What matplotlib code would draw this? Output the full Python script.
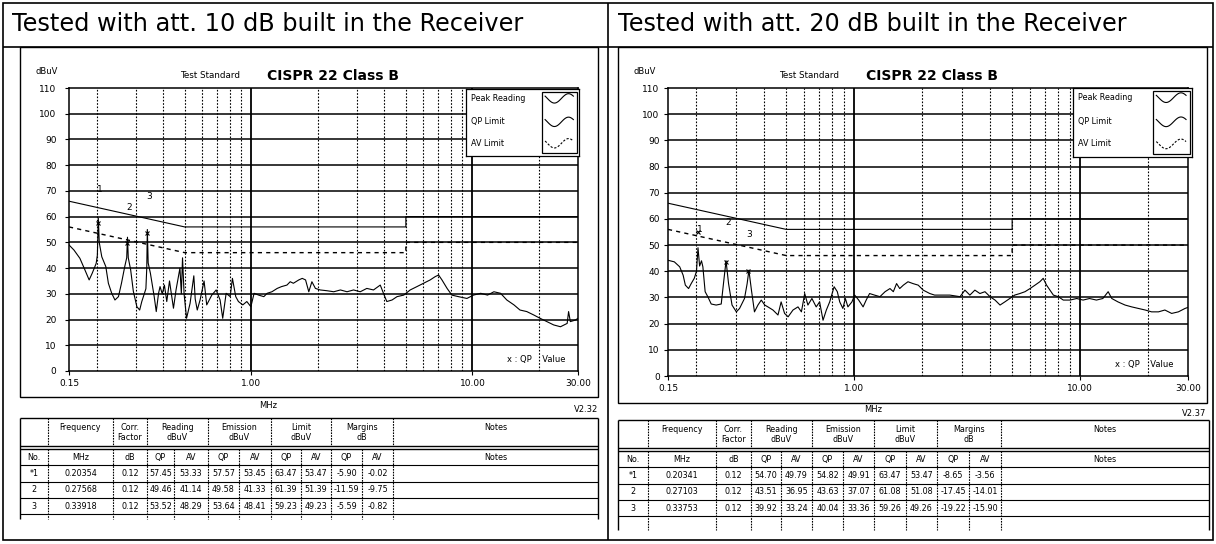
import numpy as np
import matplotlib
matplotlib.use("Agg")
import matplotlib.pyplot as plt
from matplotlib.patches import Rectangle
from matplotlib.ticker import NullLocator

# ---------------- data ----------------
titles = ["Tested with att. 10 dB built in the Receiver",
          "Tested with att. 20 dB built in the Receiver"]

# Peak reading trace, 10 dB attenuator (MHz, dBuV)
freq_10dB = [0.150, 0.158, 0.168, 0.177, 0.185, 0.191, 0.199, 0.2015, 0.2035, 0.2055,
             0.211, 0.220, 0.226, 0.234, 0.242, 0.251, 0.259, 0.268, 0.2735, 0.2757,
             0.278, 0.285, 0.293, 0.304, 0.313, 0.320, 0.327, 0.334, 0.337, 0.339,
             0.342, 0.350, 0.364, 0.372, 0.381, 0.387, 0.396, 0.405, 0.415, 0.427,
             0.445, 0.457, 0.476, 0.483, 0.489, 0.497, 0.510, 0.529, 0.550, 0.558,
             0.570, 0.587, 0.612, 0.629, 0.663, 0.694, 0.723, 0.743, 0.770, 0.803,
             0.822, 0.851, 0.875, 0.916, 0.955, 0.996, 1.03, 1.08, 1.14, 1.18,
             1.24, 1.31, 1.37, 1.45, 1.50, 1.55, 1.64, 1.70, 1.76, 1.82,
             1.88, 1.95, 2.05, 2.20, 2.36, 2.53, 2.71, 2.90, 3.11, 3.33,
             3.57, 3.83, 3.96, 4.10, 4.33, 4.56, 4.89, 5.23, 5.61, 6.01,
             6.44, 6.79, 7.03, 7.28, 7.68, 8.07, 8.65, 9.44, 10.1, 10.9,
             11.7, 12.5, 13.4, 14.3, 15.4, 16.4, 17.6, 18.9, 20.2, 21.7,
             23.3, 25.0, 26.8, 27.2, 27.7, 29.2, 30.0]
level_10dB = [49.0, 47.0, 43.8, 39.3, 35.4, 38.0, 41.8, 45.0, 59.5, 50.0,
              44.4, 40.6, 34.1, 30.2, 27.6, 28.9, 34.1, 40.6, 44.0, 52.0,
              44.0, 39.3, 31.0, 25.0, 23.7, 27.0, 29.5, 32.0, 40.0, 55.0,
              42.0, 38.0, 29.0, 23.1, 30.2, 32.8, 30.0, 33.4, 27.0, 35.0,
              24.4, 31.5, 40.0, 30.0, 44.0, 30.0, 20.5, 26.3, 37.0, 28.0,
              23.7, 27.6, 35.0, 25.7, 29.5, 31.5, 27.6, 20.5, 30.2, 28.9,
              36.0, 28.9, 27.0, 25.7, 27.0, 25.0, 30.2, 29.5, 28.9, 30.2,
              30.8, 32.1, 32.8, 33.4, 34.7, 34.1, 35.4, 36.0, 35.4, 30.8,
              34.7, 32.1, 31.5, 31.2, 30.8, 31.5, 30.8, 31.5, 30.8, 32.1,
              31.5, 33.4, 30.2, 27.0, 27.6, 28.9, 29.5, 31.5, 32.8, 34.1,
              35.4, 36.7, 37.3, 35.4, 32.1, 29.5, 28.9, 28.2, 29.5, 30.2,
              29.5, 30.8, 30.2, 27.6, 25.7, 23.7, 23.1, 21.8, 20.5, 19.2,
              17.9, 17.2, 18.5, 23.1, 19.2, 19.8, 20.5]

# Peak reading trace, 20 dB attenuator (MHz, dBuV)
freq_20dB = [0.150, 0.160, 0.169, 0.175, 0.179, 0.185, 0.190, 0.196, 0.2005, 0.2036,
             0.207, 0.211, 0.214, 0.219, 0.225, 0.233, 0.245, 0.258, 0.265, 0.271,
             0.278, 0.288, 0.301, 0.311, 0.327, 0.336, 0.342, 0.351, 0.362, 0.375,
             0.388, 0.402, 0.415, 0.437, 0.460, 0.475, 0.492, 0.510, 0.536, 0.564,
             0.584, 0.604, 0.624, 0.650, 0.679, 0.703, 0.728, 0.753, 0.779, 0.815,
             0.842, 0.863, 0.891, 0.914, 0.938, 0.977, 1.005, 1.047, 1.095, 1.13,
             1.17, 1.23, 1.30, 1.37, 1.44, 1.49, 1.54, 1.59, 1.65, 1.73,
             1.82, 1.92, 2.02, 2.16, 2.27, 2.40, 2.65, 2.94, 3.09, 3.25,
             3.42, 3.60, 3.79, 3.99, 4.20, 4.42, 4.64, 4.88, 5.13, 5.41,
             5.70, 6.00, 6.31, 6.63, 6.86, 7.10, 7.35, 7.61, 8.00, 8.42,
             9.02, 9.65, 10.3, 11.0, 11.8, 12.6, 13.3, 13.8, 14.7, 15.8,
             16.9, 18.1, 19.4, 20.7, 22.2, 23.7, 25.4, 27.2, 29.1, 30.0]
level_20dB = [44.2, 43.6, 41.7, 38.5, 34.7, 33.4, 35.3, 37.3, 40.0, 49.0,
              42.0, 44.0, 41.7, 32.2, 30.3, 27.5, 27.1, 27.5, 36.6, 44.0,
              35.3, 27.1, 24.5, 25.8, 29.6, 35.3, 40.4, 32.8, 24.5, 27.1,
              29.0, 27.1, 26.4, 25.2, 23.3, 28.3, 23.9, 22.6, 25.2, 26.4,
              24.5, 31.5, 27.1, 29.6, 26.4, 28.3, 21.3, 25.2, 28.3, 34.1,
              32.2, 28.3, 25.8, 29.6, 26.4, 28.3, 30.9, 29.0, 26.4, 29.0,
              31.5, 30.9, 30.3, 32.2, 33.4, 32.2, 35.3, 33.4, 34.7, 36.0,
              35.3, 34.7, 32.8, 31.5, 30.9, 30.9, 30.9, 30.3, 32.8, 30.9,
              32.8, 31.5, 32.2, 30.3, 29.0, 27.1, 28.3, 29.6, 30.9, 31.5,
              32.2, 33.4, 34.7, 36.0, 37.3, 34.7, 32.8, 30.9, 30.3, 29.0,
              29.0, 29.6, 29.0, 29.6, 29.0, 29.6, 32.2, 29.6, 28.3, 27.1,
              26.4, 25.8, 25.2, 24.5, 24.5, 25.2, 23.9, 24.5, 25.8, 26.2]

# CISPR 22 Class B limits
limit_freq = [0.15, 0.5, 5.0, 5.0, 30.0]
qp_limit = [66, 56, 56, 60, 60]
av_limit = [56, 46, 46, 50, 50]

# Marked QP points
marker_freq_10dB = [0.20354, 0.27568, 0.33918]
marker_qp_10dB = [57.57, 49.58, 53.64]
marker_freq_20dB = [0.20341, 0.27103, 0.33753]
marker_qp_20dB = [54.82, 43.63, 40.04]

# Tables
table_10dB = [
    ["*1", "0.20354", "0.12", "57.45", "53.33", "57.57", "53.45", "63.47", "53.47", "-5.90", "-0.02"],
    ["2", "0.27568", "0.12", "49.46", "41.14", "49.58", "41.33", "61.39", "51.39", "-11.59", "-9.75"],
    ["3", "0.33918", "0.12", "53.52", "48.29", "53.64", "48.41", "59.23", "49.23", "-5.59", "-0.82"],
]
table_20dB = [
    ["*1", "0.20341", "0.12", "54.70", "49.79", "54.82", "49.91", "63.47", "53.47", "-8.65", "-3.56"],
    ["2", "0.27103", "0.12", "43.51", "36.95", "43.63", "37.07", "61.08", "51.08", "-17.45", "-14.01"],
    ["3", "0.33753", "0.12", "39.92", "33.24", "40.04", "33.36", "59.26", "49.26", "-19.22", "-15.90"],
]
versions = ["V2.32", "V2.37"]

# ---------------- layout ----------------
W, H = 1216, 544
fig = plt.figure(figsize=(W / 100, H / 100), dpi=100)
fig.patch.set_facecolor("white")
TFONT = "DejaVu Sans"
FONT = "DejaVu Sans"


def rect(x0, y0, x1, y1):
    return [x0 / W, 1 - y1 / H, (x1 - x0) / W, (y1 - y0) / H]


bg = fig.add_axes([0, 0, 1, 1])
bg.set_xlim(0, W)
bg.set_ylim(H, 0)
bg.axis("off")


def hline(y, x0, x1, lw=1.0, ls="-"):
    bg.plot([x0, x1], [y, y], color="k", lw=lw, ls=ls, solid_capstyle="butt")


def vline(x, y0, y1, lw=1.0, ls="-"):
    bg.plot([x, x], [y0, y1], color="k", lw=lw, ls=ls, solid_capstyle="butt")


# outer frame
bg.add_patch(Rectangle((3, 3), 1210, 537, fill=False, lw=1.2, ec="k"))
hline(47, 3, 1213, lw=1.2)
vline(608, 3, 540, lw=1.2)

renderer = fig.canvas.get_renderer()
for tx, title, target in [(12, titles[0], 513), (618, titles[1], 510)]:
    t = bg.text(tx, 24, title, fontsize=16, family=TFONT, va="center", ha="left")
    w = t.get_window_extent(renderer=renderer).width
    t.set_fontsize(16 * target / w)

minor_grid = [0.2, 0.3, 0.4, 0.5, 0.6, 0.7, 0.8, 0.9, 2, 3, 4, 5, 6, 7, 8, 9, 20]


def draw_chart(frame, box, freq, level, mfreq, mqp, label_off, leg_box, ypad, xlab_y, ver, ver_xy):
    fx0, fy0, fx1, fy1 = frame
    bg.add_patch(Rectangle((fx0, fy0), fx1 - fx0, fy1 - fy0, fill=False, lw=1.0, ec="k"))
    x0, y0, x1, y1 = box
    ax = fig.add_axes(rect(x0, y0, x1, y1))
    ax.set_xscale("log")
    ax.set_xlim(0.15, 30)
    ax.set_ylim(0, 110)
    ax.set_facecolor("white")
    for v in range(10, 110, 10):
        ax.axhline(v, color="k", lw=1.1, zorder=1)
    for f in minor_grid:
        ax.axvline(f, color="k", lw=0.8, ls=(0, (1.5, 1.5)), zorder=1)
    for f in [1, 10]:
        ax.axvline(f, color="k", lw=1.3, zorder=1)
    ax.plot(limit_freq, qp_limit, color="k", lw=0.8, zorder=2)
    ax.plot(limit_freq, av_limit, color="k", lw=1.0, ls=(0, (3, 3)), zorder=2)
    ax.plot(freq, level, color="k", lw=0.8, zorder=3)
    ax.plot(mfreq, mqp, "x", ms=3, mew=0.8, color="k", zorder=4)
    for i, (f, q, o) in enumerate(zip(mfreq, mqp, label_off)):
        ax.text(f * 1.02, q + o, str(i + 1), fontsize=6.5, family=FONT, ha="center", va="center", zorder=5)
    for s in ax.spines.values():
        s.set_linewidth(1.1)
    ax.set_xticks([0.15, 1, 10, 30])
    ax.set_xticklabels(["0.15", "1.00", "10.00", "30.00"])
    ax.xaxis.set_minor_locator(NullLocator())
    ax.set_yticks(range(0, 111, 10))
    ax.tick_params(axis="both", direction="out", length=3, width=0.8, labelsize=6.5)
    ax.tick_params(axis="y", pad=ypad)
    ax.tick_params(axis="x", pad=3)
    for t in ax.get_xticklabels() + ax.get_yticklabels():
        t.set_family(FONT)
    ax.text(0.86, 0.025, "x : QP    Value", transform=ax.transAxes, fontsize=6, family=FONT,
            ha="left", va="bottom", zorder=5)
    bg.text(x0 - 34, 72, "dBuV", fontsize=6, family=FONT, va="center", ha="left")
    bg.text(x0 + 111, 76, "Test Standard", fontsize=6.3, family=FONT, va="center", ha="left")
    bg.text(x0 + 198, 76, "CISPR 22 Class B", fontsize=10, family=FONT, weight="bold",
            va="center", ha="left")
    bg.text((x0 + x1) / 2 - 55, xlab_y, "MHz", fontsize=6, family=FONT, va="center", ha="center")
    bg.text(ver_xy[0], ver_xy[1], ver, fontsize=6, family=FONT, va="center", ha="right")
    # legend
    lx0, ly0, lx1, ly1 = leg_box
    leg = fig.add_axes(rect(lx0, ly0, lx1, ly1))
    leg.set_xlim(0, 1)
    leg.set_ylim(1, 0)
    leg.set_xticks([])
    leg.set_yticks([])
    for s in leg.spines.values():
        s.set_linewidth(0.9)
    names = ["Peak Reading", "QP Limit", "AV Limit"]
    rows = [0.14, 0.49, 0.81]
    for n, r in zip(names, rows):
        leg.text(0.04, r, n, fontsize=5.8, family=FONT, va="center", ha="left")
    leg.add_patch(Rectangle((0.67, 0.04), 0.31, 0.92, fill=False, lw=0.9, ec="k"))
    t = np.linspace(0, 1, 40)
    styles = ["-", "-", (0, (2, 1.5))]
    for r, st in zip(rows, styles):
        leg.plot(0.70 + 0.25 * t, r + 0.07 * np.sin(2 * np.pi * t - 0.5), color="k", lw=0.8, ls=st)
    return ax


draw_chart((20, 47, 598, 397), (69, 88, 578, 371), freq_10dB, level_10dB,
           marker_freq_10dB, marker_qp_10dB, [13, 14, 14], (466, 89, 579, 156), 6, 405,
           versions[0], (598, 409))
draw_chart((618, 47, 1207, 403), (668, 88, 1188, 376), freq_20dB, level_20dB,
           marker_freq_20dB, marker_qp_20dB, [1, 15, 14], (1073, 88, 1192, 157), 3, 410,
           versions[1], (1206, 414))

# ---------------- tables ----------------
group_heads = [("", 0, 1), ("Frequency", 1, 2), ("Corr.\nFactor", 2, 3), ("Reading\ndBuV", 3, 5),
               ("Emission\ndBuV", 5, 7), ("Limit\ndBuV", 7, 9), ("Margins\ndB", 9, 11), ("Notes", 11, 12)]
unit_row = ["No.", "MHz", "dB", "QP", "AV", "QP", "AV", "QP", "AV", "QP", "AV", "Notes"]


def draw_table(xe, ytop, rows, extra):
    yh = ytop + 28
    yu = yh + 3
    row_h = 16.3
    ys = [yu + row_h * i for i in range(len(rows) + 2)]
    x0, x1 = xe[0], xe[-1]
    hline(ytop, x0, x1, lw=1.0)
    hline(yh, x0, x1, lw=1.0)
    hline(yu, x0, x1, lw=1.0)
    for y in ys[1:]:
        hline(y, x0, x1, lw=0.8)
    yend = ys[-1] + extra
    vline(x0, ytop, yend, lw=1.0)
    vline(x1, ytop, yend, lw=1.0)
    for txt, a, b in group_heads:
        if a > 0:
            vline(xe[a], ytop, yh, lw=0.8, ls=(0, (1.5, 1)))
        cx = (xe[a] + xe[b]) / 2
        if txt:
            bg.text(cx, ytop + 5, txt, fontsize=5.8, family=FONT, ha="center", va="top",
                    linespacing=1.2)
    for j in range(1, len(xe) - 1):
        vline(xe[j], yu, yend, lw=0.8, ls=(0, (1.5, 1)))
    for j, u in enumerate(unit_row):
        cx = (xe[j] + xe[j + 1]) / 2
        bg.text(cx, (ys[0] + ys[1]) / 2, u, fontsize=5.8, family=FONT, ha="center", va="center")
    for i, r in enumerate(rows):
        yc = (ys[i + 1] + ys[i + 2]) / 2
        for j, v in enumerate(r):
            cx = (xe[j] + xe[j + 1]) / 2
            bg.text(cx, yc, v, fontsize=5.8, family=FONT, ha="center", va="center")


draw_table([20, 48, 113, 147, 174, 208, 239, 271, 301, 331, 362, 393, 598], 418, table_10dB, 5)
draw_table([618, 648, 716, 751, 781, 812, 843, 874, 906, 937, 969, 1001, 1209], 420, table_20dB, 14)

fig.savefig("out.png", dpi=100, facecolor="white")
